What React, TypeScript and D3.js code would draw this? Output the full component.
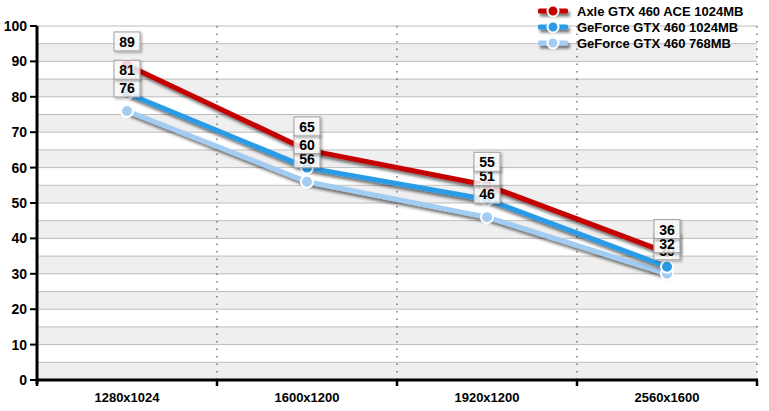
import { useEffect, useRef } from "react";
import * as d3 from "d3";

const categories = ["1280x1024", "1600x1200", "1920x1200", "2560x1600"];
const seriesNames = ["Axle GTX 460 ACE 1024MB", "GeForce GTX 460 1024MB", "GeForce GTX 460 768MB"];
const axleValues = [89, 65, 55, 36];
const gtx1024Values = [81, 60, 51, 32];
const gtx768Values = [76, 56, 46, 30];
const yTicks = [0, 10, 20, 30, 40, 50, 60, 70, 80, 90, 100];

const colors = ["#c40000", "#2a9be6", "#a2ccf2"];

export default function App() {
  const svgRef = useRef<SVGSVGElement>(null);
  const width = 769;
  const height = 411;

  useEffect(() => {
    document.body.style.margin = "0";
    if (!svgRef.current) return;
    const svg = d3.select(svgRef.current);
    svg.selectAll("*").remove();

    const left = 37, right = 757, top = 26, bottom = 380;
    const font = "'Liberation Sans', Arial, sans-serif";

    const x = d3.scaleBand<string>().domain(categories).range([left, right]);
    const y = d3.scaleLinear().domain([0, 100]).range([bottom, top]);

    const defs = svg.append("defs");
    const sh = defs.append("filter").attr("id", "lineShadow")
      .attr("filterUnits", "userSpaceOnUse")
      .attr("x", 0).attr("y", 0).attr("width", width).attr("height", height);
    sh.append("feDropShadow").attr("dx", 2).attr("dy", 3).attr("stdDeviation", 1.8)
      .attr("flood-color", "#000").attr("flood-opacity", 0.55);
    const bs = defs.append("filter").attr("id", "boxShadow")
      .attr("filterUnits", "userSpaceOnUse")
      .attr("x", 0).attr("y", 0).attr("width", width).attr("height", height);
    bs.append("feDropShadow").attr("dx", 1.5).attr("dy", 1.5).attr("stdDeviation", 1)
      .attr("flood-color", "#000").attr("flood-opacity", 0.35);

    // alternating bands
    const bands = d3.range(0, 100, 5);
    svg.append("g").selectAll("rect").data(bands).join("rect")
      .attr("x", left).attr("width", right - left)
      .attr("y", d => y(d + 5)).attr("height", d => y(d) - y(d + 5))
      .attr("fill", d => (d / 5) % 2 === 0 ? "#efefef" : "#ffffff");

    // horizontal grid
    svg.append("g").selectAll("line").data(d3.range(5, 105, 5)).join("line")
      .attr("x1", left).attr("x2", right)
      .attr("y1", d => y(d)).attr("y2", d => y(d))
      .attr("stroke", "#bdbdbd").attr("stroke-width", 1);

    // vertical dotted separators
    svg.append("g").selectAll("line").data(categories).join("line")
      .attr("x1", d => x(d)! + x.bandwidth()).attr("x2", d => x(d)! + x.bandwidth())
      .attr("y1", top).attr("y2", bottom)
      .attr("stroke", "#555").attr("stroke-width", 1.2).attr("stroke-dasharray", "1.5,6");

    // axes
    svg.append("line").attr("x1", left).attr("x2", left).attr("y1", top).attr("y2", bottom + 4)
      .attr("stroke", "#000").attr("stroke-width", 3);
    svg.append("line").attr("x1", left - 1).attr("x2", right + 1).attr("y1", bottom).attr("y2", bottom)
      .attr("stroke", "#000").attr("stroke-width", 3);

    svg.append("g").selectAll("line").data(yTicks).join("line")
      .attr("x1", left - 7).attr("x2", left).attr("y1", d => y(d)).attr("y2", d => y(d))
      .attr("stroke", "#000").attr("stroke-width", 2);
    svg.append("g").selectAll("text").data(yTicks).join("text")
      .attr("x", left - 10).attr("y", d => y(d) + 5)
      .attr("text-anchor", "end").attr("font-family", font).attr("font-weight", "bold")
      .attr("font-size", "14px").attr("fill", "#000").text(d => d);

    const bounds = [x(categories[0])!, ...categories.map(c => x(c)! + x.bandwidth())];
    svg.append("g").selectAll("line").data(bounds).join("line")
      .attr("x1", d => d).attr("x2", d => d).attr("y1", bottom).attr("y2", bottom + 6)
      .attr("stroke", "#000").attr("stroke-width", 2.5);
    svg.append("g").selectAll("text").data(categories).join("text")
      .attr("x", d => x(d)! + x.bandwidth() / 2).attr("y", bottom + 22)
      .attr("text-anchor", "middle").attr("font-family", font).attr("font-weight", "bold")
      .attr("font-size", "13px").attr("fill", "#000").text(d => d);

    const series = [axleValues, gtx1024Values, gtx768Values];
    const cx = (i: number) => x(categories[i])! + x.bandwidth() / 2;
    const line = d3.line<number>().x((_, i) => cx(i)).y(d => y(d));

    // lines drawn back to front
    for (let s = series.length - 1; s >= 0; s--) {
      svg.append("path").datum(series[s])
        .attr("fill", "none").attr("stroke", colors[s]).attr("stroke-width", 5)
        .attr("stroke-linejoin", "round").attr("filter", "url(#lineShadow)")
        .attr("d", line);
    }
    for (let s = series.length - 1; s >= 0; s--) {
      svg.append("g").selectAll("circle").data(series[s]).join("circle")
        .attr("cx", (_, i) => cx(i)).attr("cy", d => y(d)).attr("r", 6)
        .attr("fill", colors[s]).attr("stroke", "#fff").attr("stroke-width", 2);
    }

    // value labels
    for (let s = series.length - 1; s >= 0; s--) {
      const g = svg.append("g");
      series[s].forEach((v, i) => {
        const lx = cx(i), ly = y(v) - 23;
        g.append("rect").attr("x", lx - 13).attr("y", ly - 10).attr("width", 26).attr("height", 19)
          .attr("fill", "#fff").attr("fill-opacity", 0.8)
          .attr("stroke", "#a0a0a0").attr("stroke-width", 1)
          .attr("filter", "url(#boxShadow)");
        g.append("text").attr("x", lx).attr("y", ly + 5)
          .attr("text-anchor", "middle").attr("font-family", font).attr("font-weight", "bold")
          .attr("font-size", "14px").attr("fill", "#000").text(v);
      });
    }

    // legend
    const legend = svg.append("g");
    seriesNames.forEach((name, i) => {
      const ly = 11 + i * 16;
      legend.append("rect").attr("x", 538).attr("y", ly - 2.5).attr("width", 30).attr("height", 5)
        .attr("rx", 1.5).attr("fill", colors[i]).attr("filter", "url(#lineShadow)");
      legend.append("circle").attr("cx", 553).attr("cy", ly).attr("r", 5.5)
        .attr("fill", colors[i]).attr("stroke", "#fff").attr("stroke-width", 2);
      legend.append("text").attr("x", 577).attr("y", ly + 4.5)
        .attr("font-family", font).attr("font-weight", "bold").attr("font-size", "13px")
        .attr("fill", "#000").text(name);
    });
  }, []);

  return <svg ref={svgRef} width={width} height={height} style={{ display: "block", background: "#fff" }} />;
}
